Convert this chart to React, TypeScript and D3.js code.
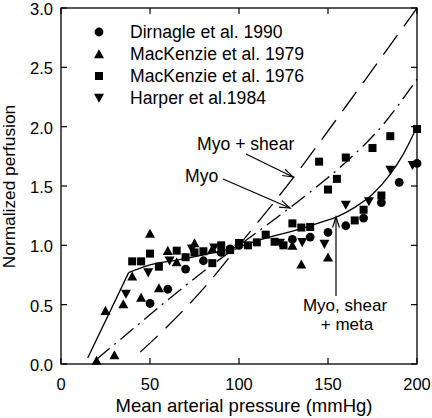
import React from "react";
import * as d3 from "d3";

// ---- data ----
const xTicks = [0, 50, 100, 150, 200];
const yTicks = [0, 0.5, 1.0, 1.5, 2.0, 2.5, 3.0];

const dirnagle: [number, number][] = [
  [50, 0.51], [60, 0.63], [70, 0.8], [80, 0.87], [90, 0.94], [95, 0.97], [100, 1.0],
  [130, 1.05], [140, 1.07], [150, 1.11], [160, 1.165], [170, 1.23], [180, 1.36],
  [190, 1.53], [200, 1.69],
];
const mackenzie1979: [number, number][] = [
  [20, 0.03], [25, 0.45], [30, 0.076], [35, 0.505], [40, 0.74], [45, 0.56], [50, 1.1],
  [55, 0.64], [60, 0.955], [65, 0.86], [75, 1.02], [85, 0.97], [130, 1.0], [135, 0.84],
  [150, 0.9],
];
const mackenzie1976: [number, number][] = [
  [40, 0.865], [45, 0.865], [50, 0.93], [55, 0.82], [65, 0.955], [70, 0.9], [75, 0.94],
  [80, 0.95], [85, 0.85], [90, 1.0], [95, 0.96], [100, 1.02], [105, 1.0], [110, 1.025],
  [115, 1.09], [120, 1.03], [125, 1.0], [130, 1.185], [135, 1.15], [140, 1.155],
  [145, 1.705], [150, 1.47], [155, 1.56], [160, 1.74], [165, 1.21], [170, 1.3],
  [175, 1.82], [180, 1.42], [185, 1.92], [200, 1.98],
];
const harper1984: [number, number][] = [
  [36.5, 0.59], [49, 0.77], [61, 0.87], [73.5, 0.97], [86, 0.98], [123, 1.02],
  [135.5, 1.025], [148, 1.01], [160, 1.34], [173, 1.37], [185, 1.635], [197.5, 1.675],
];

// model curves: straight rising segment then smooth part
const metaRise: [number, number][] = [[15, 0.05], [38, 0.77]];
const metaPlateau: [number, number][] = [
  [38, 0.77], [50, 0.835], [65, 0.875], [80, 0.92], [100, 0.99], [115, 1.06],
  [130, 1.12], [145, 1.19], [155, 1.24], [165, 1.32], [175, 1.43], [185, 1.6],
  [192, 1.76], [200, 2.0],
];
const curveMyo: [number, number][] = [
  [20, 0.04], [40, 0.29], [60, 0.54], [80, 0.78], [100, 1.0], [120, 1.22], [140, 1.45],
  [160, 1.7], [180, 2.0], [200, 2.4],
];
const curveShear: [number, number][] = [
  [44.5, 0.1], [60, 0.32], [80, 0.635], [100, 1.0], [130, 1.56], [160, 2.17], [200, 3.0],
];

const legendLabels = [
  "Dirnagle et al. 1990",
  "MacKenzie et al. 1979",
  "MacKenzie et al. 1976",
  "Harper et al.1984",
];

// ---- layout ----
const W = 432, H = 418;
const L = 61, R = 417, T = 8, B = 364;
const FONT = "'Liberation Sans', Arial, Helvetica, sans-serif";

const x = d3.scaleLinear().domain([0, 200]).range([L, R]);
const y = d3.scaleLinear().domain([0, 3]).range([B, T]);

type Shape = "circle" | "tri" | "square" | "itri";

function Marker({ cx, cy, shape }: { cx: number; cy: number; shape: Shape }) {
  if (shape === "circle") return <circle cx={cx} cy={cy} r={4.4} fill="#000" />;
  if (shape === "square")
    return <rect x={cx - 4} y={cy - 4} width={8} height={8} fill="#000" />;
  const w = 5, h = 4.3;
  if (shape === "tri")
    return <path d={`M${cx},${cy - h - 0.5}L${cx + w},${cy + h}L${cx - w},${cy + h}Z`} fill="#000" />;
  return <path d={`M${cx},${cy + h + 0.5}L${cx + w},${cy - h}L${cx - w},${cy - h}Z`} fill="#000" />;
}

function Arrow({ x1, y1, x2, y2 }: { x1: number; y1: number; x2: number; y2: number }) {
  const a = Math.atan2(y2 - y1, x2 - x1);
  const len = 11, spread = 0.32;
  const p1 = [x2 - len * Math.cos(a - spread), y2 - len * Math.sin(a - spread)];
  const p2 = [x2 - len * Math.cos(a + spread), y2 - len * Math.sin(a + spread)];
  return (
    <g stroke="#000" strokeWidth={1.2} fill="none">
      <line x1={x1} y1={y1} x2={x2} y2={y2} />
      <path d={`M${p1[0]},${p1[1]}L${x2},${y2}L${p2[0]},${p2[1]}`} />
    </g>
  );
}

export default function App() {
  const smooth = d3
    .line<[number, number]>()
    .x((d) => x(d[0]))
    .y((d) => y(d[1]))
    .curve(d3.curveMonotoneX);
  const straight = d3
    .line<[number, number]>()
    .x((d) => x(d[0]))
    .y((d) => y(d[1]));

  const series: { data: [number, number][]; shape: Shape }[] = [
    { data: dirnagle, shape: "circle" },
    { data: mackenzie1979, shape: "tri" },
    { data: mackenzie1976, shape: "square" },
    { data: harper1984, shape: "itri" },
  ];
  const legendShapes: Shape[] = ["circle", "tri", "square", "itri"];

  return (
    <svg
      width={W}
      height={H}
      style={{ position: "absolute", left: 0, top: 0, background: "#fff" }}
      fontFamily={FONT}
    >
      <rect x={0} y={0} width={W} height={H} fill="#fff" />
      {/* curves */}
      <path d={straight(metaRise) || ""} fill="none" stroke="#000" strokeWidth={1.3} />
      <path d={smooth(metaPlateau) || ""} fill="none" stroke="#000" strokeWidth={1.3} />
      <path
        d={smooth(curveMyo) || ""}
        fill="none"
        stroke="#000"
        strokeWidth={1.3}
        strokeDasharray="17,6,2,6"
      />
      <path
        d={smooth(curveShear) || ""}
        fill="none"
        stroke="#000"
        strokeWidth={1.3}
        strokeDasharray="24,11"
      />
      {/* points */}
      {series.map((s, i) => (
        <g key={i}>
          {s.data.map((d, j) => (
            <Marker key={j} cx={x(d[0])} cy={y(d[1])} shape={s.shape} />
          ))}
        </g>
      ))}
      {/* frame */}
      <rect x={L} y={T} width={R - L} height={B - T} fill="none" stroke="#000" strokeWidth={1.3} />
      {xTicks.map((t) => (
        <g key={"x" + t}>
          <line x1={x(t)} x2={x(t)} y1={B} y2={B - 6} stroke="#000" strokeWidth={1.2} />
          <line x1={x(t)} x2={x(t)} y1={T} y2={T + 6} stroke="#000" strokeWidth={1.2} />
          <text x={x(t)} y={390} fontSize={16.5} textAnchor="middle">
            {t}
          </text>
        </g>
      ))}
      {yTicks.map((t) => (
        <g key={"y" + t}>
          <line x1={L} x2={L + 6} y1={y(t)} y2={y(t)} stroke="#000" strokeWidth={1.2} />
          <line x1={R} x2={R - 6} y1={y(t)} y2={y(t)} stroke="#000" strokeWidth={1.2} />
          <text x={53} y={y(t) + 7} fontSize={16.5} textAnchor="end">
            {d3.format(".1f")(t)}
          </text>
        </g>
      ))}
      {/* axis titles */}
      <text x={244} y={412} fontSize={18.5} textAnchor="middle">
        Mean arterial pressure (mmHg)
      </text>
      <text
        transform={`translate(15,186.5) rotate(-90)`}
        fontSize={17.3}
        textAnchor="middle"
      >
        Normalized perfusion
      </text>
      {/* legend */}
      {legendLabels.map((lab, i) => (
        <g key={lab}>
          <Marker cx={99} cy={32 + i * 22} shape={legendShapes[i]} />
          <text x={130} y={37.5 + i * 22} fontSize={17.6}>
            {lab}
          </text>
        </g>
      ))}
      {/* annotations */}
      <text x={197} y={150} fontSize={17.6}>
        Myo + shear
      </text>
      <Arrow x1={246} y1={154} x2={293} y2={177} />
      <text x={185} y={182} fontSize={17.6}>
        Myo
      </text>
      <Arrow x1={223} y1={179} x2={290} y2={208} />
      <text x={345} y={311} fontSize={17} textAnchor="middle">
        Myo, shear
      </text>
      <text x={347} y={330} fontSize={17} textAnchor="middle">
        + meta
      </text>
      <Arrow x1={336} y1={296} x2={336} y2={217} />
    </svg>
  );
}
